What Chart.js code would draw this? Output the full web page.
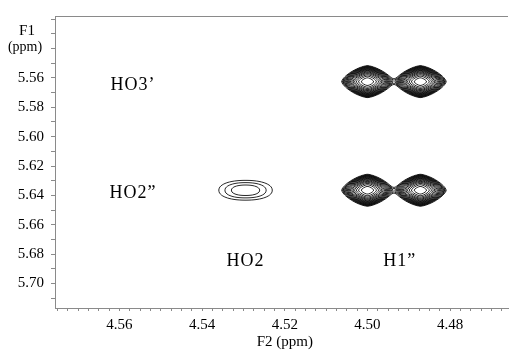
<!DOCTYPE html>
<html>
<head>
<meta charset="utf-8">
<script src="https://cdn.jsdelivr.net/npm/chart.js@4.4.0/dist/chart.umd.min.js"></script>
<style>
  html, body { margin: 0; padding: 0; background: #fff; }
</style>
</head>
<body>
<canvas id="nmr" width="509" height="350"></canvas>
<script>
// Picos de cruce (F2 y F1 en ppm)
const peakF2 = [4.5000, 4.4872, 4.5000, 4.4872, 4.5295];
const peakF1 = [5.5625, 5.5625, 5.6365, 5.6365, 5.6365];
const peakHeight = [1, 1, 1, 1, 0.0305];
const peakWidthF2 = [0.00305, 0.00305, 0.00305, 0.00305, 0.00767];
const peakWidthF1 = [0.0053, 0.0053, 0.0053, 0.0053, 0.0080];
const peakShape = [1.45, 1.45, 1.45, 1.45, 2.2];

// Niveles de contorno
const contourLevels = [0.015, 0.02, 0.025, 0.031, 0.039, 0.049, 0.062, 0.078, 0.098, 0.125, 0.16, 0.21, 0.27, 0.35, 0.46, 0.6, 0.78];

// Etiquetas de los picos
const peakLabels = ['HO3’', 'HO2”', 'HO2', 'H1”'];
const peakLabelF2 = [4.5567, 4.5567, 4.5295, 4.4922];
const peakLabelF1 = [5.5647, 5.6387, 5.6847, 5.6847];

// Etiquetas de los ejes
const f2TickLabels = ['4.56', '4.54', '4.52', '4.50', '4.48'];
const f1TickLabels = ['5.56', '5.58', '5.60', '5.62', '5.64', '5.66', '5.68', '5.70'];

// Marcas menores (cada 0.0025 en F2, cada 0.01 en F1)
const f2Ticks = [];
for (let k = 0; k <= 43; k++) f2Ticks.push(Math.round((4.4675 + k * 0.0025) * 1e4) / 1e4);
const f1Ticks = [];
for (let k = 0; k <= 19; k++) f1Ticks.push(Math.round((5.52 + k * 0.01) * 100) / 100);

const serif = "'Liberation Serif', 'DejaVu Serif', serif";
const axisGray = '#8a8a8a';

const tickLabel = (labels) => (value) => {
    const s = value.toFixed(2);
    return (labels.includes(s) && Math.abs(value - parseFloat(s)) < 1e-6) ? s : '';
};

// Contornos por marching squares sobre la rejilla de píxeles
function drawContours(chart) {
    const { ctx, chartArea: a, scales: { x, y } } = chart;
    const nx = Math.floor(a.right - a.left) + 1;
    const ny = Math.floor(a.bottom - a.top) + 1;
    const field = new Float32Array(nx * ny);
    for (let j = 0; j < ny; j++) {
        const f1 = y.getValueForPixel(a.top + j);
        for (let i = 0; i < nx; i++) {
            const f2 = x.getValueForPixel(a.left + i);
            let v = 0;
            for (let k = 0; k < peakF2.length; k++) {
                const u = Math.abs(f2 - peakF2[k]) / peakWidthF2[k];
                const w = Math.abs(f1 - peakF1[k]) / peakWidthF1[k];
                if (u > 5 || w > 5) continue;
                const q = peakShape[k];
                const d = Math.pow(Math.pow(u, q) + Math.pow(w, q), 1 / q);
                v += peakHeight[k] * Math.exp(-d * d);
            }
            field[j * nx + i] = v;
        }
    }
    ctx.save();
    ctx.beginPath();
    ctx.rect(a.left, a.top, a.right - a.left, a.bottom - a.top);
    ctx.clip();
    ctx.strokeStyle = '#000';
    ctx.lineWidth = 0.85;
    contourLevels.forEach(level => {
        ctx.beginPath();
        for (let j = 0; j < ny - 1; j++) {
            for (let i = 0; i < nx - 1; i++) {
                const v0 = field[j * nx + i], v1 = field[j * nx + i + 1];
                const v2 = field[(j + 1) * nx + i + 1], v3 = field[(j + 1) * nx + i];
                const b0 = v0 > level, b1 = v1 > level, b2 = v2 > level, b3 = v3 > level;
                if (b0 === b1 && b1 === b2 && b2 === b3) continue;
                const px = a.left + i, py = a.top + j;
                const e = [];
                if (b0 !== b1) e.push([px + (level - v0) / (v1 - v0), py]);
                if (b1 !== b2) e.push([px + 1, py + (level - v1) / (v2 - v1)]);
                if (b3 !== b2) e.push([px + (level - v3) / (v2 - v3), py + 1]);
                if (b0 !== b3) e.push([px, py + (level - v0) / (v3 - v0)]);
                if (e.length === 2) {
                    ctx.moveTo(e[0][0], e[0][1]); ctx.lineTo(e[1][0], e[1][1]);
                } else if (e.length === 4) {
                    ctx.moveTo(e[0][0], e[0][1]); ctx.lineTo(e[3][0], e[3][1]);
                    ctx.moveTo(e[1][0], e[1][1]); ctx.lineTo(e[2][0], e[2][1]);
                }
            }
        }
        ctx.stroke();
    });
    ctx.restore();
}

const nmrPlugin = {
    id: 'nmr',
    afterDatasetsDraw(chart) {
        const { ctx, chartArea: a, scales: { x, y } } = chart;
        drawContours(chart);

        // Borde superior
        ctx.save();
        ctx.strokeStyle = axisGray;
        ctx.lineWidth = 1;
        ctx.beginPath();
        ctx.moveTo(a.left, Math.round(a.top) + 0.5);
        ctx.lineTo(a.right, Math.round(a.top) + 0.5);
        ctx.stroke();

        // Etiquetas de picos
        ctx.fillStyle = '#000';
        ctx.textAlign = 'center';
        ctx.textBaseline = 'middle';
        ctx.font = '18px ' + serif;
        ctx.letterSpacing = '1px';
        peakLabels.forEach((t, i) => {
            ctx.fillText(t, x.getPixelForValue(peakLabelF2[i]), y.getPixelForValue(peakLabelF1[i]));
        });
        ctx.letterSpacing = '0px';

        // Títulos de ejes
        ctx.font = '15px ' + serif;
        ctx.fillText('F1', a.left - 28, a.top + 15);
        ctx.font = '14px ' + serif;
        ctx.fillText('(ppm)', a.left - 30, a.top + 31);
        ctx.font = '15px ' + serif;
        ctx.fillText('F2 (ppm)', x.getPixelForValue(4.52), a.bottom + 34);
        ctx.restore();
    }
};

new Chart(document.getElementById('nmr'), {
    type: 'scatter',
    data: {
        datasets: [{
            data: peakF2.map((v, i) => ({ x: v, y: peakF1[i] })),
            pointRadius: 0
        }]
    },
    options: {
        responsive: false,
        animation: false,
        devicePixelRatio: 1,
        layout: { padding: { top: 11, right: 1, left: 0, bottom: 0 } },
        plugins: { legend: { display: false }, tooltip: { enabled: false } },
        scales: {
            x: {
                type: 'linear',
                reverse: true,
                min: 4.4660,
                max: 4.5756,
                afterBuildTicks: s => { s.ticks = f2Ticks.map(v => ({ value: v })); },
                afterFit: s => { s.height = 42; },
                ticks: {
                    autoSkip: false,
                    maxRotation: 0,
                    padding: 5,
                    color: '#000',
                    font: { family: serif, size: 15 },
                    callback: tickLabel(f2TickLabels)
                },
                grid: { drawOnChartArea: false, tickLength: 3, color: axisGray },
                border: { color: axisGray, dash: [8, 3] }
            },
            y: {
                type: 'linear',
                reverse: true,
                min: 5.5178,
                max: 5.7167,
                afterBuildTicks: s => { s.ticks = f1Ticks.map(v => ({ value: v })); },
                afterFit: s => { s.width = 55; },
                ticks: {
                    autoSkip: false,
                    padding: 7,
                    color: '#000',
                    font: { family: serif, size: 15 },
                    callback: tickLabel(f1TickLabels)
                },
                grid: { drawOnChartArea: false, tickLength: 4, color: axisGray },
                border: { color: axisGray }
            }
        }
    },
    plugins: [nmrPlugin]
});
</script>
</body>
</html>
